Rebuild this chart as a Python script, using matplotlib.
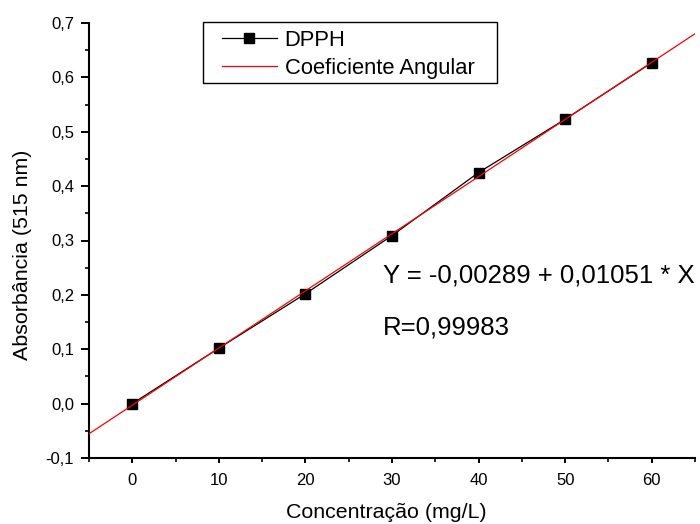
import matplotlib
matplotlib.use("Agg")
import matplotlib.pyplot as plt
import numpy as np
from matplotlib.ticker import MultipleLocator, FuncFormatter
from matplotlib.patches import Rectangle

conc = [0, 10, 20, 30, 40, 50, 60]
absorb = [0.0, 0.102, 0.202, 0.309, 0.425, 0.523, 0.627]
intercept = -0.00289
slope = 0.01051
fit_x = [-5, 65]

plt.rcParams['font.family'] = ['Liberation Sans', 'DejaVu Sans']

W, H = 700, 524
fig = plt.figure(figsize=(7.0, 5.24), dpi=100)
ax = fig.add_axes([89/W, 1-458/H, (695-89)/W, (458-23)/H])

fx = np.array(fit_x, dtype=float)
ax.plot(conc, absorb, color='black', lw=0.9, marker='s', ms=6.5, mfc='black', mec='black',
        label='DPPH', zorder=3)
ax.plot(fx, intercept + slope*fx, color='red', lw=0.9, label='Coeficiente Angular', zorder=4)

ax.set_xlim(-5, 65)
ax.set_ylim(-0.1, 0.7)
for s in ['top', 'right']:
    ax.spines[s].set_visible(False)
for s in ['left', 'bottom']:
    ax.spines[s].set_linewidth(1.5)
ax.xaxis.set_major_locator(MultipleLocator(10))
ax.xaxis.set_minor_locator(MultipleLocator(5))
ax.yaxis.set_major_locator(MultipleLocator(0.1))
ax.yaxis.set_minor_locator(MultipleLocator(0.05))
ax.yaxis.set_major_formatter(FuncFormatter(lambda v, p: f"{v:.1f}".replace('.', ',').replace('-0,0', '0,0')))
ax.tick_params(which='major', direction='out', width=1.4, labelsize=12)
ax.tick_params(which='minor', direction='out', width=1.2)
ax.tick_params(axis='x', which='major', length=3.6, pad=7)
ax.tick_params(axis='x', which='minor', length=2.8)
ax.tick_params(axis='y', which='major', length=5.8, pad=5)
ax.tick_params(axis='y', which='minor', length=2.9)

ax.set_xlabel('Concentração (mg/L)', fontsize=15.4, va='center')
ax.xaxis.set_label_coords((386.5-89)/606, (458-513)/435)
ax.set_ylabel('Absorbância (515 nm)', fontsize=15.4, va='center')
ax.yaxis.set_label_coords((23-89)/606, (458-255)/435)

fig.text(383/W, 1-276/H, 'Y = -0,00289 + 0,01051 * X', fontsize=18.5, va='center', ha='left')
fig.text(383/W, 1-327/H, 'R=0,99983', fontsize=18.5, va='center', ha='left')

# legend frame drawn manually
rect = Rectangle((203/W, 1-83/H), (497-203)/W, (83-22)/H, transform=fig.transFigure,
                 fill=True, facecolor='white', edgecolor='black', lw=1.0, zorder=5, clip_on=False)
ax.add_artist(rect)
leg = ax.legend(loc='upper left', bbox_to_anchor=((222-89)/606, (458-30)/435), fontsize=15.8,
                frameon=False, numpoints=1, borderpad=0, labelspacing=0.3,
                handlelength=2.5, handletextpad=0.35, borderaxespad=0)
leg.set_zorder(6)

fig.savefig('out.png', dpi=100)
